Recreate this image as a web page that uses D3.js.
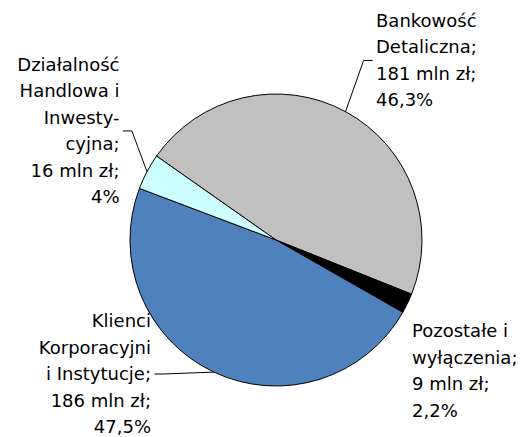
<!DOCTYPE html>
<html>
<head>
<meta charset="utf-8">
<script src="https://cdn.jsdelivr.net/npm/d3@7"></script>
<style>
body { margin: 0; background: #fff; }
text { font-family: "DejaVu Sans", sans-serif; font-size: 18px; fill: #000; }
</style>
</head>
<body>
<svg id="chart" width="521" height="437"></svg>
<script>
// Segment data (clockwise from the top-left)
const nameLines = [
    ["Bankowość", "Detaliczna;"],
    ["Pozostałe i", "wyłączenia;"],
    ["Klienci", "Korporacyjni", "i Instytucje;"],
    ["Działalność", "Handlowa i", "Inwesty-", "cyjna;"]
];
const amounts = [181, 9, 186, 16];
const shares = [46.3, 2.2, 47.5, 4];
const colors = ["#C0C0C0", "#000000", "#4F81BD", "#CCFFFF"];

// layout
const cx = 276, cy = 240, radius = 146;
const startDeg = -54.9;
const lineH = 26.5;
const labelPos = [
    { x: 376, y: 26.7, anchor: "start", leader: true },
    { x: 412, y: 337.3, anchor: "start", leader: false },
    { x: 151, y: 327, anchor: "end", leader: true },
    { x: 119.5, y: 70.7, anchor: "end", leader: true }
];

const svg = d3.select("#chart");
const g = svg.append("g").attr("transform", `translate(${cx},${cy})`);

const a0 = startDeg * Math.PI / 180;
const pie = d3.pie().sort(null).value(d => d).startAngle(a0).endAngle(a0 + 2 * Math.PI);
const arc = d3.arc().innerRadius(0).outerRadius(radius);
const arcs = pie(shares);

g.selectAll("path.slice").data(arcs).enter().append("path")
    .attr("class", "slice")
    .attr("d", arc)
    .attr("fill", (d, i) => colors[i])
    .attr("stroke", "#000")
    .attr("stroke-width", 1)
    .attr("stroke-linejoin", "round");

const fmtShare = v => String(v).replace(".", ",") + "%";

arcs.forEach((d, i) => {
    const lines = nameLines[i].concat([amounts[i] + " mln zł;", fmtShare(shares[i])]);
    const p = labelPos[i];
    const t = svg.append("text").attr("text-anchor", p.anchor);
    lines.forEach((s, k) => {
        t.append("tspan").attr("x", p.x).attr("y", p.y + k * lineH).text(s);
    });

    if (p.leader) {
        const mid = (d.startAngle + d.endAngle) / 2;
        const ex = cx + radius * Math.sin(mid);
        const ey = cy - radius * Math.cos(mid);
        const ly = p.y + (lines.length - 1) * lineH / 2 - 6;
        const dir = p.anchor === "start" ? -1 : 1;
        const lx = p.x + dir * 3.4;
        const path = d3.path();
        path.moveTo(lx, ly);
        path.lineTo(lx + dir * 9, ly);
        path.lineTo(ex, ey);
        svg.append("path")
            .attr("d", path.toString())
            .attr("fill", "none")
            .attr("stroke", "#000")
            .attr("stroke-width", 1);
    }
});
</script>
</body>
</html>
